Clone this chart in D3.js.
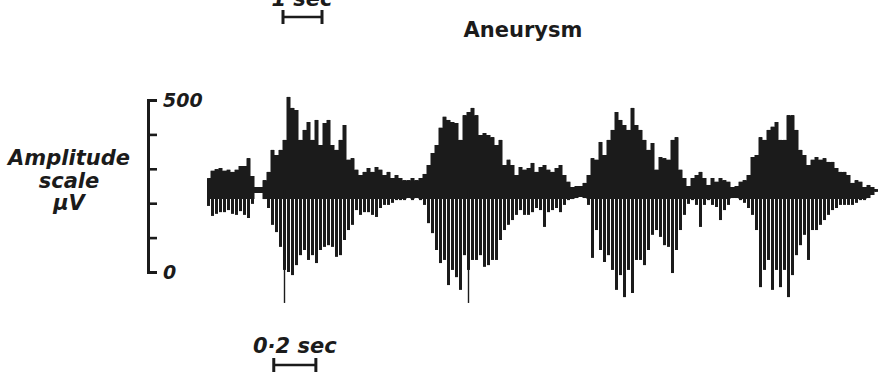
<!DOCTYPE html>
<html>
<head>
<meta charset="utf-8">
<script src="https://cdn.jsdelivr.net/npm/d3@7"></script>
<style>
  body { margin: 0; background: #fff; }
  svg text { font-family: "DejaVu Sans", sans-serif; font-weight: bold; fill: #1b1b1b; }
</style>
</head>
<body>
<div id="chart"></div>
<script>
// recorded bruit, one sample every 19 ms, peak deflections in microvolts
const sampleMs = 19;
const baselineUv = 240;
const upperUv = [
  273, 294, 299, 302, 294, 297, 291, 297, 308, 308,
  331, 279, 247, 247, 267, 291, 355, 340, 355, 384,
  509, 477, 471, 384, 413, 436, 384, 442, 369, 433,
  442, 369, 355, 384, 427, 326, 331, 297, 282, 291,
  302, 291, 305, 297, 282, 291, 273, 282, 273, 267,
  267, 273, 267, 273, 285, 311, 346, 369, 419, 451,
  442, 436, 433, 384, 456, 465, 477, 456, 398, 404,
  398, 392, 369, 384, 311, 326, 311, 282, 305, 297,
  302, 317, 291, 305, 311, 297, 291, 302, 311, 282,
  262, 247, 250, 250, 259, 282, 331, 326, 378, 340,
  384, 413, 465, 442, 427, 413, 477, 427, 413, 384,
  355, 375, 297, 334, 331, 326, 384, 392, 297, 273,
  250, 273, 282, 291, 273, 253, 273, 262, 273, 267,
  262, 247, 250, 262, 267, 282, 334, 340, 392, 384,
  413, 422, 436, 384, 384, 456, 456, 413, 355, 340,
  311, 326, 334, 326, 331, 320, 320, 302, 291, 291,
  282, 259, 267, 262, 247, 253, 247, 241
];
const lowerUv = [
  192, 163, 169, 174, 174, 180, 169, 166, 177, 166,
  157, 198, 230, 230, 212, 186, 137, 116, 73, 6,
  0, -9, 20, 49, 64, 35, 49, 26, 64, 73,
  78, 73, 44, 49, 93, 122, 137, 180, 166, 174,
  174, 166, 160, 186, 195, 195, 201, 209, 209, 209,
  215, 209, 215, 209, 195, 142, 113, 64, 26, 35,
  -38, 6, -15, -52, 49, 6, 35, 35, 49, 15,
  20, 35, 35, 93, 122, 137, 151, 166, 180, 166,
  166, 174, 186, 180, 131, 174, 180, 186, 174, 195,
  209, 212, 215, 218, 215, 195, 41, 122, 64, 29,
  49, 6, -52, -9, -73, 6, -61, 35, 35, 20,
  64, 108, 122, 102, 78, 73, -3, 64, 122, 166,
  198, 209, 195, 131, 195, 209, 195, 189, 151, 180,
  195, 215, 215, 209, 201, 186, 166, 122, -44, 6,
  35, -52, 6, -44, 6, -73, -9, 49, 78, 108,
  35, 122, 122, 137, 151, 166, 180, 186, 195, 195,
  195, 195, 201, 209, 209, 215, 224, 233
];
// isolated thin downward needles
const needleIdx = [19, 65];
const needleUv = [-90, -90];

const scaleTicks = [0, 100, 200, 300, 400, 500];
const scaleLabelled = [0, 500];
const yTitle = ['Amplitude', 'scale', 'μV'];
const calStartMs = 310;
const calLenMs = 200;

const ink = '#1b1b1b';
const width = 883, height = 381;
const svg = d3.select('#chart').append('svg')
  .attr('width', width)
  .attr('height', height);

// half-pixel offset keeps the 3px strokes on whole pixels
const x = d3.scaleLinear()
  .domain([0, (upperUv.length - 1) * sampleMs])
  .range([208.5, 876.5]);
const y = d3.scaleLinear().domain([0, 500]).range([272, 100]);

const data = upperUv.map((u, i) => ({ t: i * sampleMs, hi: u, lo: lowerUv[i] }));

// solid body of the trace (upper half and the core round the baseline)
svg.append('path')
  .datum(data)
  .attr('fill', ink)
  .attr('d', d3.area()
    .curve(d3.curveStep)
    .x(d => x(d.t))
    .y0(d => y(Math.max(d.lo, baselineUv - 28)))
    .y1(d => y(d.hi)));

// each swing as a vertical stroke, gives the ragged lower half
svg.append('g')
  .selectAll('line')
  .data(data)
  .enter()
  .append('line')
  .attr('x1', d => x(d.t))
  .attr('x2', d => x(d.t))
  .attr('y1', d => y(d.hi))
  .attr('y2', d => y(d.lo))
  .attr('stroke', ink)
  .attr('stroke-width', 3);

svg.append('g')
  .selectAll('line')
  .data(needleIdx)
  .enter()
  .append('line')
  .attr('x1', d => x(d * sampleMs))
  .attr('x2', d => x(d * sampleMs))
  .attr('y1', y(baselineUv))
  .attr('y2', (d, i) => y(needleUv[i]))
  .attr('stroke', ink)
  .attr('stroke-width', 1.4);

// amplitude calibration scale
const axis = svg.append('g')
  .attr('transform', 'translate(148,0)')
  .call(d3.axisRight(y)
    .tickValues(scaleTicks)
    .tickSize(9)
    .tickSizeOuter(9)
    .tickPadding(6)
    .tickFormat(d => scaleLabelled.includes(d) ? d : ''));
axis.select('.domain').attr('stroke', ink).attr('stroke-width', 3);
axis.selectAll('.tick line').attr('stroke', ink).attr('stroke-width', 2.6);
axis.selectAll('.tick text')
  .attr('font-family', '"DejaVu Sans", sans-serif')
  .attr('font-weight', 'bold')
  .attr('font-style', 'italic')
  .attr('font-size', 19)
  .attr('fill', ink);

svg.append('g')
  .selectAll('text')
  .data(yTitle)
  .enter()
  .append('text')
  .attr('x', 69)
  .attr('y', (d, i) => 165 + i * 22.5)
  .attr('text-anchor', 'middle')
  .attr('font-style', 'italic')
  .attr('font-size', 21)
  .text(d => d);

svg.append('text')
  .attr('x', 523)
  .attr('y', 37)
  .attr('text-anchor', 'middle')
  .attr('font-size', 21)
  .text('Aneurysm');

// time calibration bars
function calBar(x0, x1, yy) {
  const g = svg.append('g').attr('stroke', ink);
  g.append('line').attr('x1', x0).attr('x2', x1).attr('y1', yy).attr('y2', yy).attr('stroke-width', 2.6);
  g.append('line').attr('x1', x0).attr('x2', x0).attr('y1', yy - 7).attr('y2', yy + 7).attr('stroke-width', 3);
  g.append('line').attr('x1', x1).attr('x2', x1).attr('y1', yy - 7).attr('y2', yy + 7).attr('stroke-width', 3);
}
calBar(x(calStartMs), x(calStartMs + calLenMs), 365);
svg.append('text')
  .attr('x', (x(calStartMs) + x(calStartMs + calLenMs)) / 2)
  .attr('y', 353)
  .attr('text-anchor', 'middle')
  .attr('font-style', 'italic')
  .attr('font-size', 21)
  .text('0·2 sec');

// bar left over from the panel above, its label is cut by the page edge
calBar(283, 322, 17);
svg.append('text')
  .attr('x', 302)
  .attr('y', 6)
  .attr('text-anchor', 'middle')
  .attr('font-style', 'italic')
  .attr('font-size', 21)
  .text('1 sec');
</script>
</body>
</html>
